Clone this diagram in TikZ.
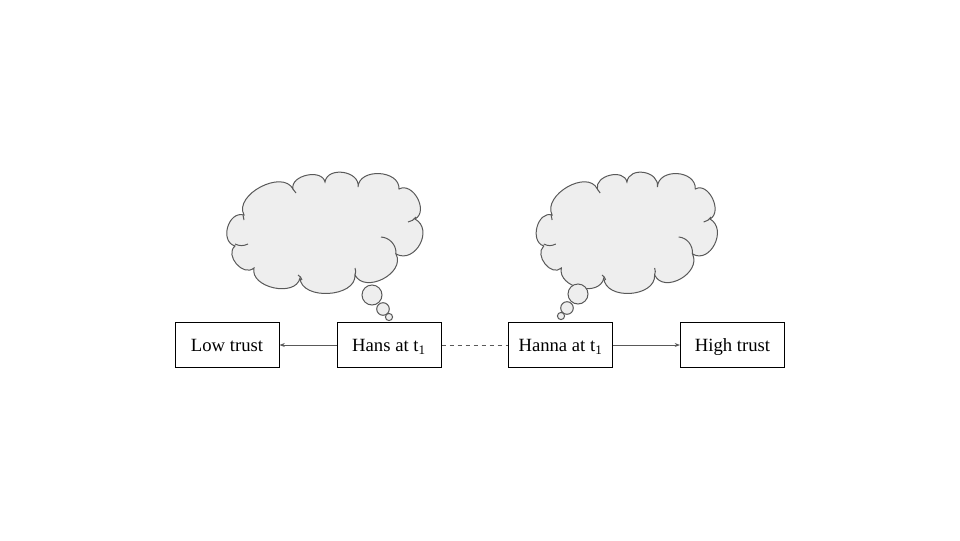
\documentclass[tikz,border=0pt]{standalone}
\usepackage{fontspec}
\setmainfont{Liberation Serif}
\usetikzlibrary{arrows.meta}
\definecolor{linegray}{HTML}{595959}
\definecolor{cloudfill}{HTML}{EEEEEE}
\tikzset{
  trustbox/.style={draw=black, line width=0.75pt, minimum width=78pt, minimum height=33.75pt, inner sep=0pt, text height=11pt, text depth=1.2pt, font=\fontsize{14}{16}\selectfont},
  lobe/.style={bend left=90, looseness=#1},
  cloudline/.style={draw=linegray, line width=0.75pt},
  bubble/.style={cloudline, fill=cloudfill},
  link/.style={draw=linegray, line width=0.6pt},
  thoughtcloud/.pic={
    \path[cloudline, fill=cloudfill] (-80,-18) to[lobe=1.05] (-31,-44) to[lobe=1.1] (1,-51)
      to[lobe=1.25] (34,-46) to[lobe=1.2] (75,-44) to[lobe=1.2] (91,-14)
      to[lobe=1.4] (72,21) to[lobe=1.2] (31,42) to[lobe=1.05] (-24,45)
      to[lobe=1.1] (-70,35) to[lobe=1.25] (-89,13) to[lobe=1.3] (-80,-18) -- cycle;
    % inner creases
    \draw[cloudline] (-89,11) to[bend right=25] (-76,11);
    \draw[cloudline] (-26,42) to[bend left=20] (-22,47);
    \draw[cloudline] (31,35) to[bend left=20] (31,42);
    \draw[cloudline] (57,4) to[bend left=45] (72,21);
    \draw[cloudline] (84,-11) to[bend right=20] (92,-16);
    \draw[cloudline] (-31,-44) to[bend left=20] (-28,-40);
    \draw[cloudline] (-81,-18) to[bend right=20] (-80,-13);
  }
}
\begin{document}
\begin{tikzpicture}[x=0.75pt, y=-0.75pt]
  \useasboundingbox (0,0) rectangle (960,540);
  % people and their trust
  \node[trustbox] (low) at (227,345) {Low trust};
  \node[trustbox] (hans) at (389,345) {Hans at t\textsubscript{1}};
  \node[trustbox] (hanna) at (560.5,345) {Hanna at t\textsubscript{1}};
  \node[trustbox] (high) at (732.5,345) {High trust};
  \draw[link, -{Stealth[length=4pt, width=3pt]}] (hans) -- (low);
  \draw[link, -{Stealth[length=4pt, width=3pt]}] (hanna) -- (high);
  \draw[link, dashed] (hans) -- (hanna);
  % thought clouds
  \pic at (324,233) {thoughtcloud};
  \draw[bubble] (372,295) circle[radius=10];
  \draw[bubble] (383,309) circle[radius=6.3];
  \draw[bubble] (389,317) circle[radius=3.6];
  \pic[xscale=0.924] at (626,233) {thoughtcloud};
  \draw[bubble] (578,294) circle[radius=10];
  \draw[bubble] (567,308) circle[radius=6.3];
  \draw[bubble] (561,316) circle[radius=3.6];
\end{tikzpicture}
\end{document}
